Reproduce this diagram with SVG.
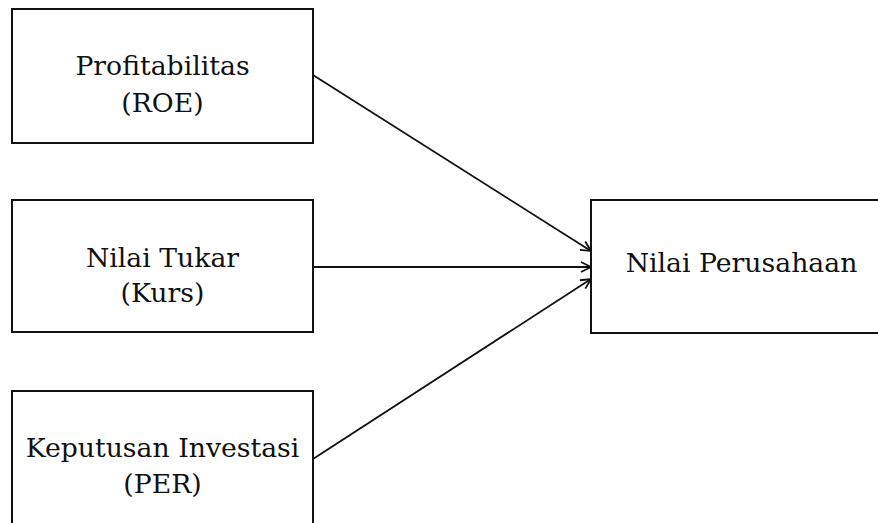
<svg xmlns="http://www.w3.org/2000/svg" width="878" height="523" viewBox="0 0 878 523">
<style>
.box{fill:#fff;stroke:#111;stroke-width:2}
.t{font-family:"DejaVu Serif","Liberation Serif",serif;font-size:26.7px;fill:#111;text-anchor:middle}
.c{stroke:#111;stroke-width:1.8;fill:none}
</style>
<defs>
<marker id="ah" viewBox="0 0 12 12" refX="11" refY="6" markerWidth="12" markerHeight="12" markerUnits="userSpaceOnUse" orient="auto">
<path d="M1,1 L11,6 L1,11" fill="none" stroke="#111" stroke-width="1.8"/>
</marker>
</defs>
<rect width="878" height="523" fill="#fff"/>
<g id="n1"><rect class="box" x="12" y="9" width="301" height="134"/>
<text class="t" x="162.5" y="75">Profitabilitas</text><text class="t" x="162.5" y="112">(ROE)</text></g>
<g id="n2"><rect class="box" x="12" y="200" width="301" height="132"/>
<text class="t" x="162.5" y="267">Nilai Tukar</text><text class="t" x="162.5" y="302">(Kurs)</text></g>
<g id="n3"><rect class="box" x="12" y="391" width="301" height="145"/>
<text class="t" x="162.5" y="457">Keputusan Investasi</text><text class="t" x="162.5" y="493">(PER)</text></g>
<g id="n4"><rect class="box" x="591" y="200" width="300" height="133"/>
<text class="t" x="741.5" y="272">Nilai Perusahaan</text></g>
<g id="edges">
<line class="c" x1="313" y1="75" x2="591" y2="251" marker-end="url(#ah)"/>
<line class="c" x1="313" y1="267" x2="591" y2="267" marker-end="url(#ah)"/>
<line class="c" x1="313" y1="459" x2="591" y2="279" marker-end="url(#ah)"/>
</g>
</svg>
